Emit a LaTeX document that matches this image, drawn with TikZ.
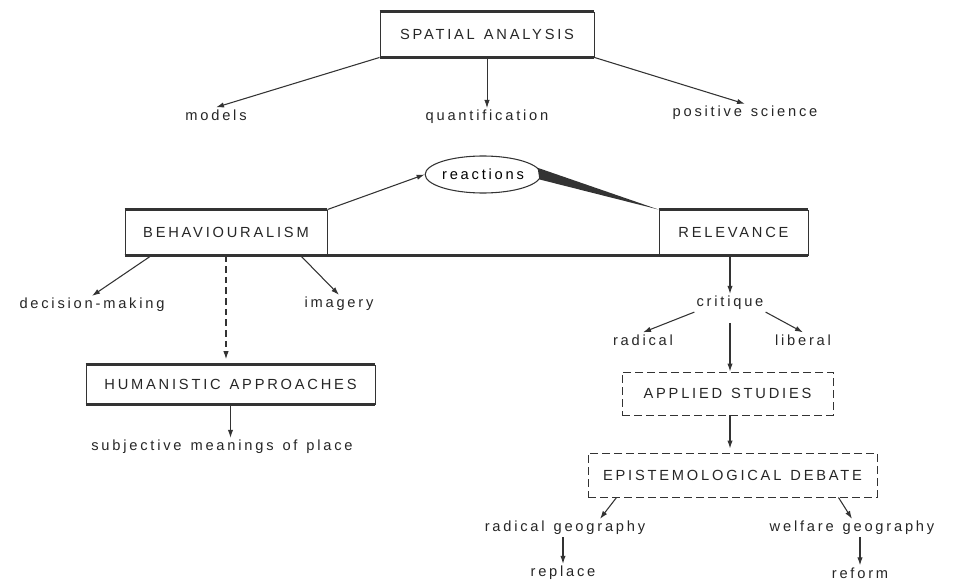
\documentclass[tikz,border=0pt]{standalone}
\usepackage{fontspec}
\setmainfont{Liberation Sans}[LetterSpace=19, WordSpace=1.3]
\usetikzlibrary{arrows.meta,positioning,shapes.geometric,calc}
\tikzset{
  term/.style  = {inner sep=1.5pt, text=black!85},
  box/.style   = {draw=black!80, line width=0.7pt, minimum height=33.75pt, inner sep=0pt, text=black!85},
  dbox/.style  = {box, dash pattern=on 6pt off 3pt},
  heavy/.style = {line width=1.8pt, draw=black!80},
  arr/.style   = {-{Latex[length=6pt,width=4pt]}, line width=0.8pt, draw=black!80}
}

\begin{document}
\begin{tikzpicture}[x=0.75pt, y=-0.75pt, font=\fontsize{11}{13}\selectfont]
\useasboundingbox (0,0) rectangle (956,581);

% top level
\node[box, minimum width=160.5pt] (spatial) at (487,34.5) {SPATIAL ANALYSIS};
\node[term] (models) at (216,115) {models};
\node[term] (quant) at (487,117) {quantification};
\node[term] (pos) at (745,113) {positive science};

% the two reactions
\node[draw=black!80, ellipse, line width=0.8pt, minimum width=75pt, minimum height=27.75pt, inner sep=0pt] (react) at (483,174.5) {reactions};
\node[box, minimum width=151.5pt] (behav) at (226,232.5) {BEHAVIOURALISM};
\node[box, minimum width=111.75pt] (relev) at (733.5,232.5) {RELEVANCE};

% left branch
\node[term] (decision) at (92,305) {decision-making};
\node[term] (imagery) at (339,304) {imagery};
\node[box, minimum width=216.75pt, minimum height=29.25pt] (human) at (230.5,384.5) {HUMANISTIC APPROACHES};
\node[term] (subj) at (222,447) {subjective meanings of place};

% right branch
\node[term] (crit) at (730,303) {critique};
\node[term] (radical) at (643,340) {radical};
\node[term] (liberal) at (803,340) {liberal};
\node[dbox, minimum width=158.25pt, minimum height=32.25pt] (applied) at (727.5,393.5) {APPLIED STUDIES};
\node[dbox, minimum width=216.75pt, minimum height=33pt] (epist) at (732.5,475) {EPISTEMOLOGICAL DEBATE};
\node[term] (radgeog) at (565,528) {radical geography};
\node[term] (welfare) at (852,528) {welfare geography};
\node[term] (replace) at (563,573) {replace};
\node[term] (reform) at (860,573) {reform};

% heavy top and bottom edges of the solid boxes
\foreach \n in {spatial,behav,relev,human}
  \draw[heavy] (\n.north west) -- (\n.north east) (\n.south west) -- (\n.south east);
\draw[heavy] (behav.south west) -- (relev.south east);

% connectors
\draw[arr] (spatial.south west) -- (models.north);
\draw[arr, line width=0.5pt] (spatial.south) -- (quant.north);
\draw[arr] (spatial.south east) -- (pos.north);
\draw[arr] (behav.north east) -- (react.west);
\fill[black!80] (react.7) -- (relev.north west) -- (react.-5) -- cycle;

\draw[arr] ($(behav.south west)+(27,0)$) -- (decision.north);
\draw[arr] ($(behav.south east)+(-27,0)$) -- (imagery.north);
\draw[arr, dash pattern=on 5pt off 3pt, shorten >=4pt] (behav.south) -- (behav.south |- human.north);
\draw[arr] (human.south) -- (human.south |- subj.north);

\draw[arr] (crit.north |- relev.south) -- (crit.north);
\draw[arr] (crit.south west) -- (radical.north);
\draw[arr] (crit.south east) -- (liberal.north);
\draw[arr, shorten <=8pt] (crit.south) -- (crit.south |- applied.north);
\draw[arr, shorten >=3pt] (crit.south |- applied.south) -- (crit.south |- epist.north);
\draw[arr] ($(epist.south west)+(29,0)$) -- ($(radgeog.north)+(35,0)$);
\draw[arr] ($(epist.south east)+(-39,0)$) -- (welfare.north);
\draw[arr] (replace.north |- radgeog.south) -- (replace.north);
\draw[arr] (reform.north |- welfare.south) -- (reform.north);
\end{tikzpicture}
\end{document}
